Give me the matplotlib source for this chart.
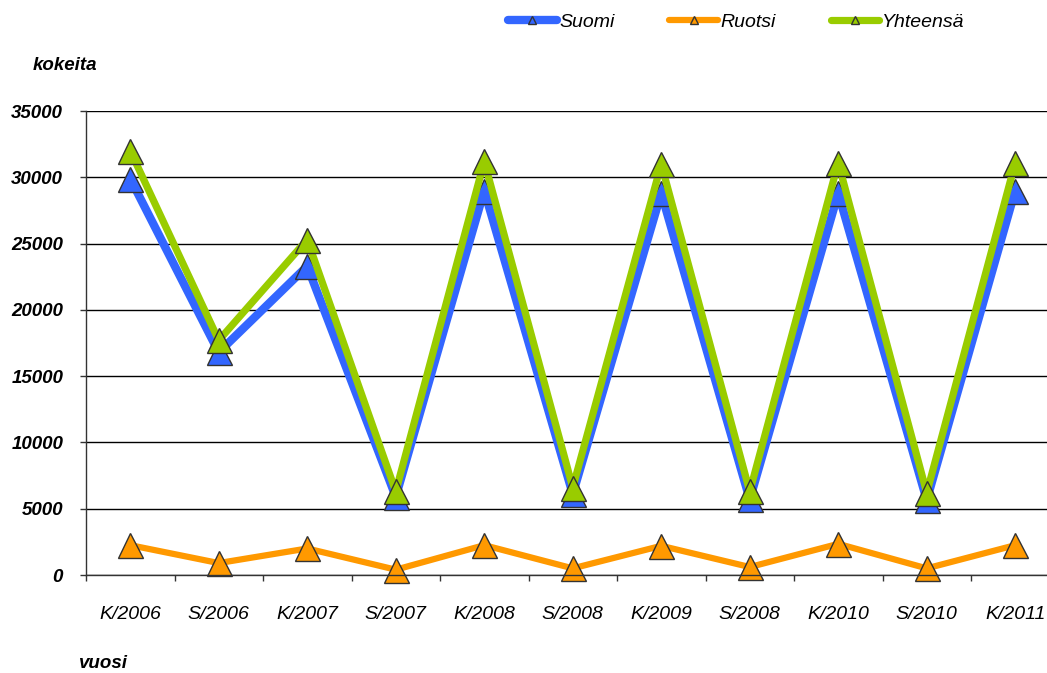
import matplotlib
matplotlib.use("Agg")
import matplotlib.pyplot as plt
from matplotlib.ticker import FixedLocator

categories = ["K/2006", "S/2006", "K/2007", "S/2007", "K/2008", "S/2008",
              "K/2009", "S/2008", "K/2010", "S/2010", "K/2011"]
suomi = [29900, 16800, 23300, 5900, 29000, 6100, 28800, 5700, 28800, 5650, 29000]
ruotsi = [2250, 900, 2000, 400, 2250, 500, 2200, 600, 2350, 500, 2250]
yhteensa = [32000, 17700, 25300, 6300, 31200, 6600, 31000, 6300, 31100, 6200, 31100]
yticks = [0, 5000, 10000, 15000, 20000, 25000, 30000, 35000]

plt.rcParams['font.family'] = ['Liberation Sans', 'DejaVu Sans']

W, H = 1047, 673
fig = plt.figure(figsize=(W / 100, H / 100), dpi=100)
left, right, top, bottom = 86, 1059.5, 111, 575
ax = fig.add_axes([left / W, (H - bottom) / H, (right - left) / W, (bottom - top) / H])

x = list(range(len(categories)))
series = [
    ("Suomi", suomi, "#3366FF", 6.0),
    ("Ruotsi", ruotsi, "#FF9900", 4.5),
    ("Yhteensä", yhteensa, "#99CC00", 5.2),
]
handles = []
for name, vals, col, lw in series:
    h, = ax.plot(x, vals, color=col, lw=lw, marker="^", ms=18,
                 markerfacecolor=col, markeredgecolor="#333333", markeredgewidth=1.0,
                 solid_joinstyle="round", solid_capstyle="round", label=name, clip_on=False)
    handles.append(h)

ax.set_xlim(-0.5, len(categories) - 0.5)
ax.set_ylim(0, 35000)
ax.set_yticks(yticks)
ax.set_yticklabels([str(v) for v in yticks], fontsize=13.5, fontstyle="italic", fontweight="bold")
ax.yaxis.grid(True, color="black", lw=1.0)
ax.set_axisbelow(True)

ax.set_xticks(x)
ax.set_xticklabels(categories, fontsize=14, fontstyle="italic")
ax.xaxis.set_minor_locator(FixedLocator([i - 0.5 for i in range(len(categories) + 1)]))
ax.tick_params(axis="x", which="major", length=0, pad=22)
ax.tick_params(axis="x", which="minor", length=4.5, width=1, color="#333333", direction="out")
ax.tick_params(axis="y", length=4.5, width=1, color="#333333", direction="out", pad=12)

for s in ["top", "right"]:
    ax.spines[s].set_visible(False)
ax.spines["left"].set_color("#333333")
ax.spines["bottom"].set_color("#333333")
ax.spines["left"].set_linewidth(1)
ax.spines["bottom"].set_linewidth(1)

fig.text(33 / W, 1 - 66 / H, "kokeita", fontsize=13.5, fontstyle="italic", fontweight="bold",
         ha="left", va="center")
fig.text(79 / W, 1 - 663 / H, "vuosi", fontsize=13.5, fontstyle="italic", fontweight="bold",
         ha="left", va="center")

leg = fig.legend(handles=handles, loc="center left", bbox_to_anchor=(508 / W, 1 - 22 / H),
                 ncol=3, frameon=False, borderpad=0, borderaxespad=0, handlelength=2.5,
                 handletextpad=0.15, columnspacing=2.8, markerscale=0.35,
                 prop={"size": 14, "style": "italic"})

fig.savefig("out.png", dpi=100)
